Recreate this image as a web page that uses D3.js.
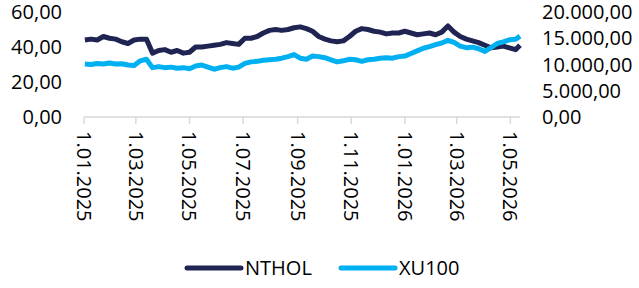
<!DOCTYPE html>
<html>
<meta charset="utf-8">
  <head>
    <script src="https://d3js.org/d3.v7.min.js"></script>
    <style>
      body { margin: 0; background: #fff; }
      text { font-family: "Open Sans", sans-serif; fill: #000; }
    </style>
  </head>
  <body>
    <div id="chart"></div>
    <script>

    // weekly closes, starting 2 Jan 2025
    var startDate = new Date(2025, 0, 2);
    var nthol = [44, 44.5, 44, 46, 45, 44.5, 43, 42, 44, 44.5,
                 44.5, 36.5, 38, 38.5, 37, 38, 36.5, 37, 40, 40,
                 40.5, 41, 41.5, 42.5, 42, 41.5, 45, 45, 46, 48,
                 49.5, 50, 49.5, 50, 51, 51.5, 50.5, 49, 46, 44.5,
                 43.5, 43, 43.5, 46, 49, 50.5, 50, 49, 48.5, 47.5,
                 48, 48, 49, 48, 47, 47.5, 48, 47, 48.5, 52,
                 48.5, 46, 44.5, 43.5, 42.5, 41, 39.5, 40, 40.5, 39.5,
                 38.5, 41];
    var xu100 = [10100, 10000, 10200, 10100, 10300, 10100, 10150, 9900, 9800, 10700,
                 11000, 9400, 9600, 9400, 9500, 9300, 9400, 9200, 9700, 9900,
                 9500, 9100, 9400, 9600, 9300, 9500, 10200, 10500, 10600, 10800,
                 10900, 11000, 11200, 11500, 11900, 11200, 11000, 11600, 11500, 11300,
                 10900, 10500, 10700, 11000, 10900, 10600, 10900, 11000, 11200, 11300,
                 11200, 11500, 11600, 12100, 12600, 13100, 13400, 13800, 14100, 14600,
                 14200, 13500, 13200, 13300, 13000, 12500, 13200, 14000, 14300, 14700,
                 14800, 15400];
    var leftTicks = [0, 20, 40, 60];
    var rightTicks = [0, 5000, 10000, 15000, 20000];
    var seriesNames = ["NTHOL", "XU100"];
    var seriesColors = ["#1f2452", "#00b0f0"];

    var dates = nthol.map(function(d, i) { return d3.timeDay.offset(startDate, i * 7); });
    dates[dates.length - 1] = new Date(2026, 4, 12);

    var width = 639, height = 288;
    var svg = d3.select("#chart").append("svg")
        .attr("width", width)
        .attr("height", height);

    var x = d3.scaleTime()
        .domain([new Date(2025, 0, 1), new Date(2026, 4, 12)])
        .range([84, 520]);
    var yL = d3.scaleLinear().domain([0, 60]).range([117, 12]);
    var yR = d3.scaleLinear().domain([0, 20000]).range([117, 12]);

    var fmt = d3.formatLocale({decimal: ",", thousands: ".", grouping: [3], currency: ["", ""]}).format(",.2f");

    // left axis labels
    svg.append("g").selectAll("text")
      .data(leftTicks)
      .enter().append("text")
        .attr("x", 62)
        .attr("y", function(d) { return yL(d); })
        .attr("dy", "0.35em")
        .attr("text-anchor", "end")
        .style("font-size", "20px")
        .text(function(d) { return fmt(d); });

    // right axis labels
    svg.append("g").selectAll("text")
      .data(rightTicks)
      .enter().append("text")
        .attr("x", 542)
        .attr("y", function(d) { return yR(d); })
        .attr("dy", "0.35em")
        .style("font-size", "20px")
        .text(function(d) { return fmt(d); });

    // x axis
    var monthTicks = d3.timeMonth.every(2).range(new Date(2025, 0, 1), new Date(2026, 4, 13));
    var xAxis = svg.append("g");
    xAxis.append("line")
        .attr("x1", x.range()[0]).attr("x2", x.range()[1])
        .attr("y1", 117).attr("y2", 117)
        .attr("stroke", "#d9d9d9").attr("stroke-width", 1.5);
    xAxis.selectAll(".tick")
      .data(monthTicks)
      .enter().append("line")
        .attr("x1", function(d) { return x(d); })
        .attr("x2", function(d) { return x(d); })
        .attr("y1", 117).attr("y2", 124)
        .attr("stroke", "#d9d9d9").attr("stroke-width", 1.5);
    xAxis.selectAll(".lbl")
      .data(monthTicks)
      .enter().append("text")
        .attr("transform", function(d) { return "translate(" + x(d) + ",131) rotate(90)"; })
        .attr("dy", "0.35em")
        .style("font-size", "20px")
        .text(function(d) { return d.getDate() + "." + d3.timeFormat("%m.%Y")(d); });

    // lines
    var lineL = d3.line()
        .x(function(d, i) { return x(dates[i]); })
        .y(function(d) { return yL(d); });
    var lineR = d3.line()
        .x(function(d, i) { return x(dates[i]); })
        .y(function(d) { return yR(d); });

    svg.append("path")
        .datum(nthol)
        .attr("d", lineL)
        .attr("fill", "none")
        .attr("stroke", seriesColors[0])
        .attr("stroke-width", 5)
        .attr("stroke-linejoin", "round");
    svg.append("path")
        .datum(xu100)
        .attr("d", lineR)
        .attr("fill", "none")
        .attr("stroke", seriesColors[1])
        .attr("stroke-width", 5)
        .attr("stroke-linejoin", "round");

    // legend
    var legX = [187, 341];
    var legend = svg.append("g");
    seriesNames.forEach(function(name, i) {
      legend.append("line")
          .attr("x1", legX[i]).attr("x2", legX[i] + 54)
          .attr("y1", 268).attr("y2", 268)
          .attr("stroke", seriesColors[i])
          .attr("stroke-width", 5)
          .attr("stroke-linecap", "round");
      legend.append("text")
          .attr("x", legX[i] + 58)
          .attr("y", 268)
          .attr("dy", "0.35em")
          .style("font-size", "20px")
          .text(name);
    });

    </script>
  </body>
</html>
